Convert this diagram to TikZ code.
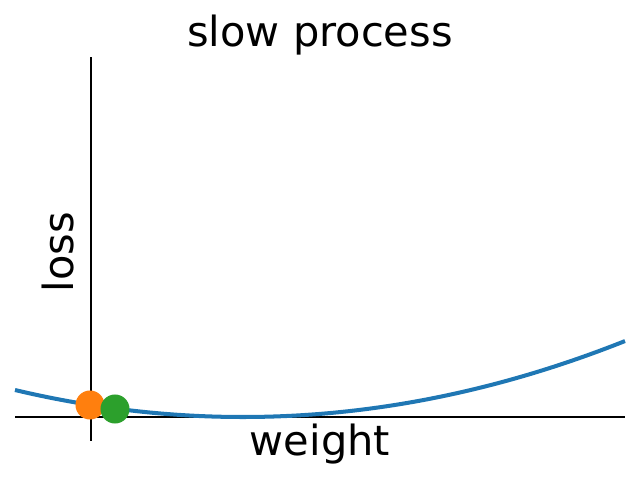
\documentclass[tikz,border=0pt]{standalone}
\usepackage{fontspec}
\setmainfont{DejaVu Sans}
\usepackage{xcolor}
\usetikzlibrary{positioning}

\definecolor{mplblue}{HTML}{1F77B4}
\definecolor{mplorange}{HTML}{FF7F0E}
\definecolor{mplgreen}{HTML}{2CA02C}

\begin{document}
\begin{tikzpicture}[x=0.01in, y=-0.01in,
    spine/.style={line width=0.8pt, black},
    lossline/.style={line width=2.9pt, mplblue},
    dot/.style={circle, minimum size=0.29in, inner sep=0pt},
    lbl/.style={font=\fontsize{30}{34}\selectfont, inner sep=0pt, anchor=base}]

    \useasboundingbox (0,0) rectangle (640,480);

    % axes
    \coordinate (ytop) at (91,57);
    \coordinate (ybot) at (91,441);
    \coordinate (xleft) at (15,417);
    \coordinate (xright) at (625,417);
    \draw[spine] (ybot) -- (ytop);
    \draw[spine] (xleft) -- (xright);

    % loss curve
    \draw[lossline] plot[domain=15:625, samples=120, smooth]
      (\x, {417-5.2*((\x-242.8)/100)^2});

    % weights
    \node[dot, fill=mplorange] (old) at (90,405) {};
    \node[dot, fill=mplgreen] (new) at (115,409) {};

    \node[lbl] (title) at (320,47) {slow process};
    \node[lbl] (xlab) at (320,456) {weight};
    \node[lbl, rotate=90] (ylab) at (73,252) {loss};
  \end{tikzpicture}
\end{document}
